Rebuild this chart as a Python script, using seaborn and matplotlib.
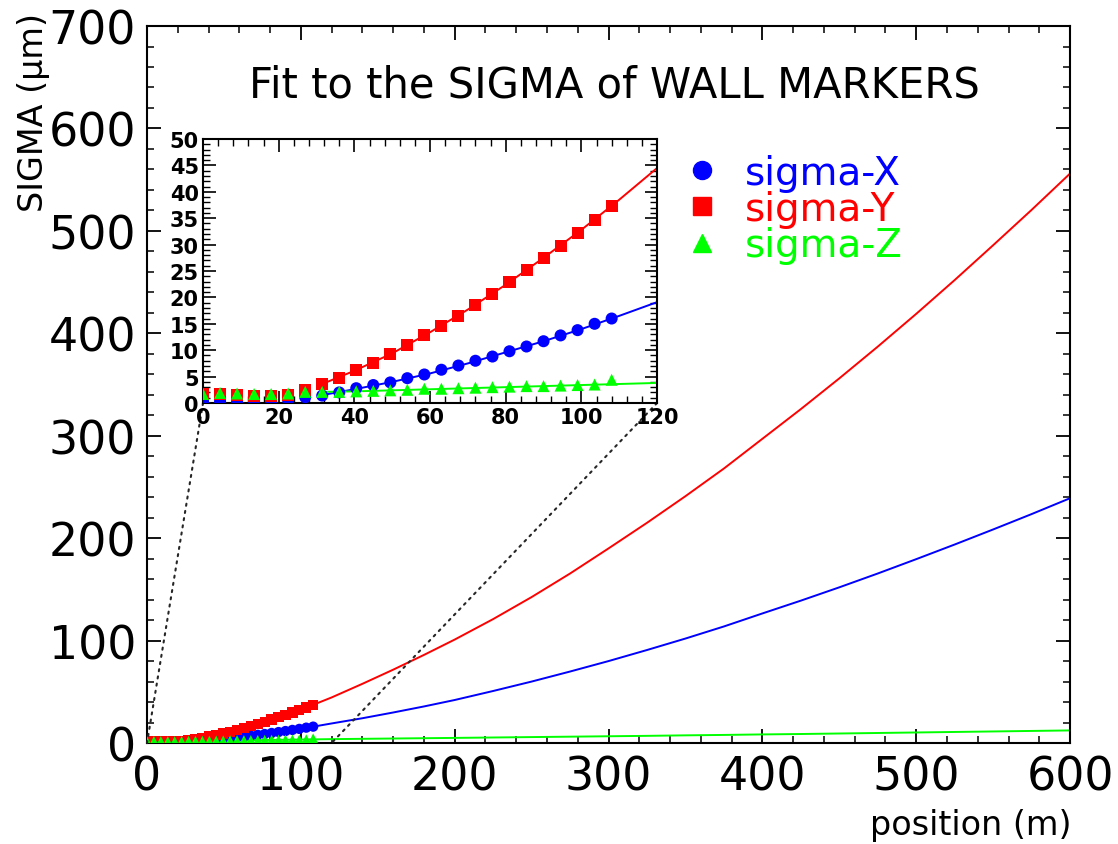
import numpy as np
import pandas as pd
import matplotlib
matplotlib.use('Agg')
import matplotlib.pyplot as plt
from matplotlib.lines import Line2D
from matplotlib.patches import ConnectionPatch
from matplotlib.ticker import MultipleLocator
import seaborn as sns

# wall marker positions (m) and measured sigmas (um)
position = [0, 4.5, 9, 13.5, 18, 22.5, 27, 31.5, 36, 40.5, 45, 49.5, 54,
            58.5, 63, 67.5, 72, 76.5, 81, 85.5, 90, 94.5, 99, 103.5, 108]
sigma_x = [0.3, 0.3, 0.3, 0.3, 0.3, 0.5, 1.1, 1.4, 2.0, 2.8, 3.4, 3.9, 4.7,
           5.4, 6.3, 7.1, 8.0, 8.8, 9.8, 10.7, 11.7, 12.8, 13.8, 15.0, 16.0]
sigma_y = [1.7, 1.7, 1.6, 1.4, 1.4, 1.6, 2.5, 3.6, 4.8, 6.3, 7.6, 9.2, 10.9,
           12.8, 14.6, 16.5, 18.6, 20.6, 22.9, 25.1, 27.5, 29.8, 32.2, 34.7, 37.3]
sigma_z = [1.7, 1.9, 1.8, 1.7, 1.7, 1.8, 2.1, 2.1, 2.1, 2.2, 2.3, 2.4, 2.5,
           2.7, 2.7, 2.8, 2.9, 3.0, 3.1, 3.2, 3.2, 3.3, 3.4, 3.5, 4.4]

# fitted curves
fit_pos = [31.5, 40, 50, 60, 70, 80, 90, 100, 110, 120, 140, 160, 180, 200,
           225, 250, 275, 300, 325, 350, 375, 400, 425, 450, 475, 500,
           525, 550, 575, 600]
fit_x = [1.5, 2.6, 4.0, 5.6, 7.5, 9.6, 11.7, 14.0, 16.5, 19.1, 24.2, 29.8, 35.7, 42,
         50.8, 60, 69.8, 80, 90.8, 102, 113.8, 126.5, 139, 152, 165.5, 179.5,
         193.8, 208.5, 223.5, 239]
fit_y = [3.6, 6.1, 9.4, 13.4, 17.7, 22.4, 27.5, 32.8, 38.5, 44.5, 57.8, 71.6, 86, 101,
         121, 142.5, 165.5, 190, 215, 241, 268, 297, 326, 356, 387, 419,
         452, 486, 520.5, 556]
fit_z = [2.1, 2.2, 2.4, 2.6, 2.8, 3.0, 3.2, 3.4, 3.6, 3.8, 4.1, 4.4, 4.7, 5.0,
         5.4, 5.8, 6.2, 6.6, 7.0, 7.5, 7.9, 8.4, 8.8, 9.3, 9.8, 10.3,
         10.8, 11.3, 11.8, 12.3]

names = ['sigma-X', 'sigma-Y', 'sigma-Z']
palette = {'sigma-X': '#0000ff', 'sigma-Y': '#ff0000', 'sigma-Z': '#00ff00'}
markers = {'sigma-X': 'o', 'sigma-Y': 's', 'sigma-Z': '^'}

points = pd.DataFrame({'position': position * 3,
                       'sigma': sigma_x + sigma_y + sigma_z,
                       'series': [n for n in names for _ in position]})
fits = pd.DataFrame({'position': fit_pos * 3,
                     'sigma': fit_x + fit_y + fit_z,
                     'series': [n for n in names for _ in fit_pos]})

sns.set_style('ticks')
plt.rcParams['font.family'] = ['DejaVu Sans']
plt.rcParams.update({'text.color': 'k', 'axes.labelcolor': 'k',
                     'xtick.color': 'k', 'ytick.color': 'k', 'axes.edgecolor': 'k'})

fig = plt.figure(figsize=(11.18, 8.45), dpi=100)
ax = fig.add_axes([0.1315, 0.1195, 0.8256, 0.8485])
ins = fig.add_axes([0.1816, 0.5219, 0.4061, 0.3124])
ins.set_zorder(5)


def draw(a, size, lw):
    sns.lineplot(data=fits, x='position', y='sigma', hue='series', palette=palette,
                 estimator=None, sort=True, lw=lw, legend=False, ax=a)
    sns.scatterplot(data=points, x='position', y='sigma', hue='series', style='series',
                    markers=markers, palette=palette, s=size, linewidth=0,
                    legend=False, ax=a, zorder=3)
    a.set_xlabel('')
    a.set_ylabel('')
    a.tick_params(which='both', direction='in', top=True, right=True, color='k',
                  labelcolor='k')
    for sp in a.spines.values():
        sp.set_linewidth(1.5)
        sp.set_color('k')


# main frame
draw(ax, 55, 1.4)
ax.set_xlim(0, 600)
ax.set_ylim(0, 700)
ax.xaxis.set_major_locator(MultipleLocator(100))
ax.xaxis.set_minor_locator(MultipleLocator(20))
ax.yaxis.set_major_locator(MultipleLocator(100))
ax.yaxis.set_minor_locator(MultipleLocator(20))
ax.tick_params(which='major', length=10, width=1.3, labelsize=33, pad=8)
ax.tick_params(which='minor', length=5, width=1.1)

# zoomed inset
draw(ins, 75, 1.4)
ins.set_xlim(0, 120)
ins.set_ylim(0, 50)
ins.xaxis.set_major_locator(MultipleLocator(20))
ins.xaxis.set_minor_locator(MultipleLocator(4))
ins.yaxis.set_major_locator(MultipleLocator(5))
ins.yaxis.set_minor_locator(MultipleLocator(1))
ins.tick_params(which='major', length=9, width=1.2, labelsize=15, pad=3)
ins.tick_params(which='minor', length=5, width=1.0)
for lab in ins.get_xticklabels() + ins.get_yticklabels():
    lab.set_fontweight('bold')

for xa in (0, 120):
    con = ConnectionPatch(xyA=(xa, 0), coordsA=ins.transData,
                          xyB=(xa, 0), coordsB=ax.transData,
                          ls=(0, (1, 2.5)), color='0.15', lw=1.5)
    fig.add_artist(con)

fig.text(614 / 1118, 1 - 85 / 845, 'Fit to the SIGMA of WALL MARKERS',
         ha='center', va='center', fontsize=30)
fig.text(34 / 1118, 1 - 113 / 845, 'SIGMA (μm)', rotation=90,
         ha='center', va='center', fontsize=24)
fig.text(1072 / 1118, 1 - 826 / 845, 'position (m)',
         ha='right', va='center', fontsize=24)

handles = [Line2D([], [], ls='none', marker=markers[n], color=palette[n],
                  markersize=13) for n in names]
ax.legend(handles, names, loc='upper left', bbox_to_anchor=(683 / 1118, 1 - 155 / 845),
          bbox_transform=fig.transFigure, frameon=False, fontsize=28,
          labelcolor=[palette[n] for n in names], handlelength=1.0,
          handletextpad=0.58, labelspacing=-0.05, borderpad=0, borderaxespad=0)

fig.savefig('out.png', dpi=100)
